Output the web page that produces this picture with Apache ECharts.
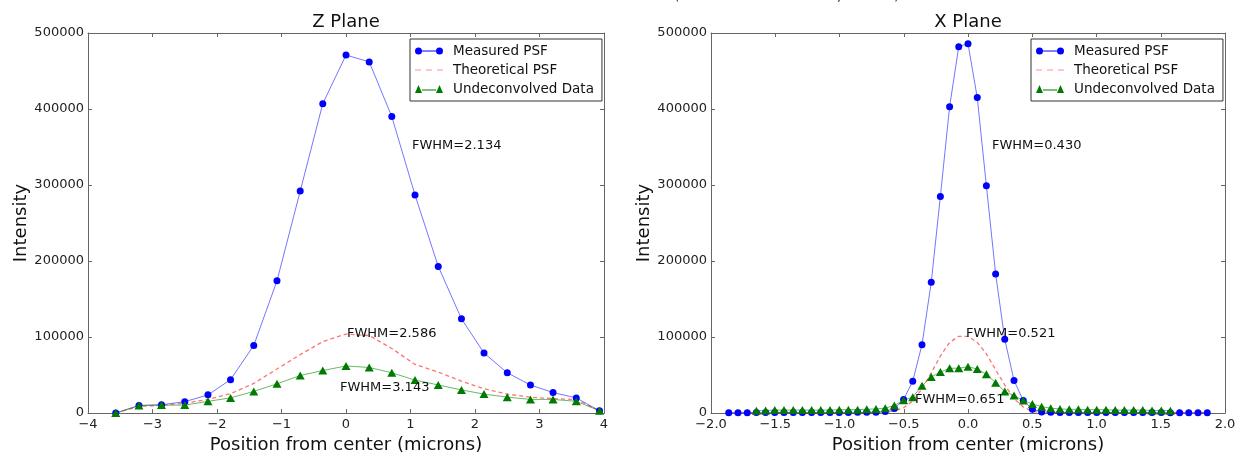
<!DOCTYPE html>
<html>
<head>
<meta charset="UTF-8">
<title>PSF profiles</title>
<script src="https://cdn.jsdelivr.net/npm/echarts@6/dist/echarts.min.js"></script>
<style>
html, body { margin: 0; padding: 0; background: #fff; }
#main { width: 1244px; height: 459px; }
</style>
</head>
<body>
<div id="main"></div>
<script>
// ---- Z plane (left) ----
var zPos = [-3.57, -3.21, -2.86, -2.50, -2.14, -1.79, -1.43, -1.07, -0.71, -0.36, 0.00,
            0.36, 0.71, 1.07, 1.43, 1.79, 2.14, 2.50, 2.86, 3.21, 3.57, 3.93];
var zMeasured = [0, 10000, 11000, 15000, 24000, 44000, 89000, 174000, 292000, 407000, 471000,
                 462000, 390000, 287000, 193000, 124000, 79000, 53000, 37000, 27000, 20000, 3000];
var zTheory = [0, 9000, 10000, 13000, 18000, 25500, 39000, 58000, 77000, 94000, 104000,
               102000, 85000, 64000, 54000, 42000, 32000, 25000, 21000, 19000, 18000, 3000];
var zRaw = [0, 10000, 10500, 10500, 15500, 20000, 28500, 38500, 49500, 56000, 62000,
            60000, 53000, 43500, 37000, 30500, 25000, 21000, 18000, 18000, 15500, 3000];

// ---- X plane (right) ----
var xPos = [-1.862, -1.790, -1.718, -1.647, -1.575, -1.504, -1.432, -1.360, -1.289, -1.217,
            -1.146, -1.074, -1.002, -0.931, -0.859, -0.788, -0.716, -0.644, -0.573, -0.501,
            -0.430, -0.358, -0.286, -0.215, -0.143, -0.072, 0.000, 0.072, 0.143, 0.215,
            0.286, 0.358, 0.430, 0.501, 0.573, 0.644, 0.716, 0.788, 0.859, 0.931,
            1.002, 1.074, 1.146, 1.217, 1.289, 1.360, 1.432, 1.504, 1.575, 1.647,
            1.718, 1.790, 1.862];
var xMeasured = [600, 600, 600, 700, 700, 700, 700, 800, 800, 800,
                 800, 800, 900, 900, 1000, 1000, 1200, 2000, 6000, 18000,
                 42000, 90000, 172000, 285000, 403000, 482000, 486000, 415000, 299000, 183000,
                 97000, 43000, 16500, 5000, 1500, 1000, 900, 800, 800, 800,
                 800, 800, 800, 700, 700, 700, 700, 700, 600, 600,
                 600, 600, 600];
var xTheory = [0, 0, 0, 0, 0, 0, 0, 0, 0, 0,
               0, 0, 0, 0, 0, 0, 300, 1000, 3000, 7000,
               16000, 32000, 53000, 75000, 93000, 101000, 101000, 93000, 78000, 57000,
               37000, 19000, 8000, 2500, 500, 0, 0, 0, 0, 0,
               0, 0, 0, 0, 0, 0, 0, 0, 0, 0,
               0, 0, 0];
// no triangles drawn for the outermost samples
var xRaw = [null, null, null, 3000, 3500, 4000, 4000, 4000, 4000, 4000,
            4000, 4000, 4500, 4500, 4500, 5000, 5500, 6500, 10000, 17000,
            21000, 36000, 47500, 54000, 59000, 59000, 61000, 58000, 51000, 40000,
            28500, 23000, 16500, 12000, 8500, 6500, 5500, 5000, 5000, 4500,
            4500, 4500, 4000, 4000, 4000, 4000, 3500, 3500, 3000, null,
            null, null, null];

var seriesNames = ['Measured PSF', 'Theoretical PSF', 'Undeconvolved Data'];
var fwhmZ = ['FWHM=2.134', 'FWHM=2.586', 'FWHM=3.143'];
var fwhmX = ['FWHM=0.430', 'FWHM=0.521', 'FWHM=0.651'];

var FONT = 'DejaVu Sans';
var FRAME = '#666';

function pairs(pos, vals) {
    var out = [];
    for (var i = 0; i < pos.length; i++) {
        if (vals[i] != null) out.push([pos[i], vals[i]]);
    }
    return out;
}

function minus(s) { return s.replace('-', '\u2212'); }

function xAxisCfg(gi, min, max, step, dec, pos) {
    var bottom = pos === 'bottom';
    return {
        type: 'value', gridIndex: gi, position: pos,
        min: min, max: max, interval: step,
        axisLine: { show: true, onZero: false, lineStyle: { color: FRAME, width: 1 } },
        axisTick: { show: true, inside: true, length: 4, lineStyle: { color: FRAME } },
        axisLabel: {
            show: bottom, margin: 5, color: '#222', fontSize: 13, fontFamily: FONT,
            formatter: function (v) { return minus(v.toFixed(dec)); }
        },
        splitLine: { show: false },
        name: bottom ? 'Position from center (microns)' : '',
        nameLocation: 'middle', nameGap: 14,
        nameTextStyle: { fontSize: 18, color: '#111', fontFamily: FONT }
    };
}

function yAxisCfg(gi, pos, gap) {
    var left = pos === 'left';
    return {
        type: 'value', gridIndex: gi, position: pos,
        min: 0, max: 500000, interval: 100000,
        axisLine: { show: true, onZero: false, lineStyle: { color: FRAME, width: 1 } },
        axisTick: { show: true, inside: true, length: 4, lineStyle: { color: FRAME } },
        axisLabel: {
            show: left, margin: 4, color: '#222', fontSize: 13, fontFamily: FONT,
            formatter: function (v) { return String(v); }
        },
        splitLine: { show: false },
        name: left ? 'Intensity' : '',
        nameLocation: 'middle', nameGap: gap,
        nameTextStyle: { fontSize: 18, color: '#111', fontFamily: FONT }
    };
}

function plotSeries(gi, pos, measured, theory, raw) {
    return [{
        name: seriesNames[0], type: 'line', xAxisIndex: gi, yAxisIndex: gi,
        data: pairs(pos, measured),
        symbol: 'circle', symbolSize: 7, showAllSymbol: true,
        itemStyle: { color: '#0000ff', borderWidth: 0 },
        lineStyle: { color: '#3a3aff', width: 1, opacity: 0.7 }
    }, {
        name: seriesNames[1], type: 'line', xAxisIndex: gi, yAxisIndex: gi,
        data: pairs(pos, theory), showSymbol: false,
        itemStyle: { color: '#ff6060' },
        lineStyle: { color: '#ff0000', width: 1.3, opacity: 0.55, type: [4, 3] }
    }, {
        name: seriesNames[2], type: 'line', xAxisIndex: gi, yAxisIndex: gi,
        data: pairs(pos, raw),
        symbol: 'triangle', symbolSize: [9, 8], showAllSymbol: true,
        itemStyle: { color: '#007a00', borderWidth: 0 },
        lineStyle: { color: '#2a9a2a', width: 1, opacity: 0.7 }
    }];
}

var icons = [
    'path://M0,4A3.5,3.5,0,1,0,7,4A3.5,3.5,0,1,0,0,4ZM21,4A3.5,3.5,0,1,0,28,4A3.5,3.5,0,1,0,21,4ZM7,3.5L21,3.5L21,4.5L7,4.5Z',
    'path://M0,3.4h6v1.2h-6zM11,3.4h6v1.2h-6zM22,3.4h6v1.2h-6z',
    'path://M0,8L3.5,0L7,8ZM21,8L24.5,0L28,8ZM7,4.5L21,4.5L21,5.5L7,5.5Z'
];
var iconColors = ['#0000ff', '#ff9090', '#007a00'];

function legendCfg(left) {
    return {
        left: left, top: 39, orient: 'vertical',
        itemWidth: 28, itemHeight: 8, itemGap: 5,
        padding: [5, 8, 5, 5],
        backgroundColor: '#fff', borderColor: '#333', borderWidth: 1,
        selectedMode: false,
        itemStyle: { borderWidth: 0 },
        textStyle: { fontSize: 13.5, color: '#111', fontFamily: FONT, padding: [0, 0, 0, 5] },
        data: seriesNames.map(function (n, i) {
            return { name: n, icon: icons[i], itemStyle: { color: iconColors[i] } };
        })
    };
}

function txt(x, y, s, size, align) {
    return {
        type: 'text', x: x, y: y, z: 100,
        style: { text: s, fill: '#111', font: size + 'px "' + FONT + '"', align: align || 'left', verticalAlign: 'middle' }
    };
}

var chart = echarts.init(document.getElementById('main'));
chart.setOption({
    animation: false,
    textStyle: { fontFamily: FONT },
    grid: [
        { left: 88, top: 33, width: 516, height: 391 },
        { left: 711, top: 33, width: 514, height: 391 }
    ],
    xAxis: [
        xAxisCfg(0, -4, 4, 1, 0, 'bottom'),
        xAxisCfg(1, -2, 2, 0.5, 1, 'bottom'),
        xAxisCfg(0, -4, 4, 1, 0, 'top'),
        xAxisCfg(1, -2, 2, 0.5, 1, 'top')
    ],
    yAxis: [
        yAxisCfg(0, 'left', 58),
        yAxisCfg(1, 'left', 57),
        yAxisCfg(0, 'right', 0),
        yAxisCfg(1, 'right', 0)
    ],
    legend: [legendCfg(410), legendCfg(1031)],
    series: plotSeries(0, zPos, zMeasured, zTheory, zRaw)
        .concat(plotSeries(1, xPos, xMeasured, xTheory, xRaw)),
    graphic: [
        txt(346, 22, 'Z Plane', 18, 'center'),
        txt(968, 22, 'X Plane', 18, 'center'),
        txt(412, 146, fwhmZ[0], 13),
        txt(347, 334, fwhmZ[1], 13),
        txt(340, 388, fwhmZ[2], 13),
        txt(992, 146, fwhmX[0], 13),
        txt(966, 334, fwhmX[1], 13),
        txt(915, 400, fwhmX[2], 13),
        // remnants of a caption cut off above the figure
        { type: 'text', x: 674, y: 3, style: { text: '(', fill: '#333', font: '14px "' + FONT + '"', verticalAlign: 'bottom' } },
        { type: 'text', x: 837, y: 3, style: { text: ',', fill: '#333', font: '14px "' + FONT + '"', verticalAlign: 'bottom' } },
        { type: 'text', x: 894, y: 3, style: { text: ')', fill: '#333', font: '14px "' + FONT + '"', verticalAlign: 'bottom' } }
    ]
});
</script>
</body>
</html>
